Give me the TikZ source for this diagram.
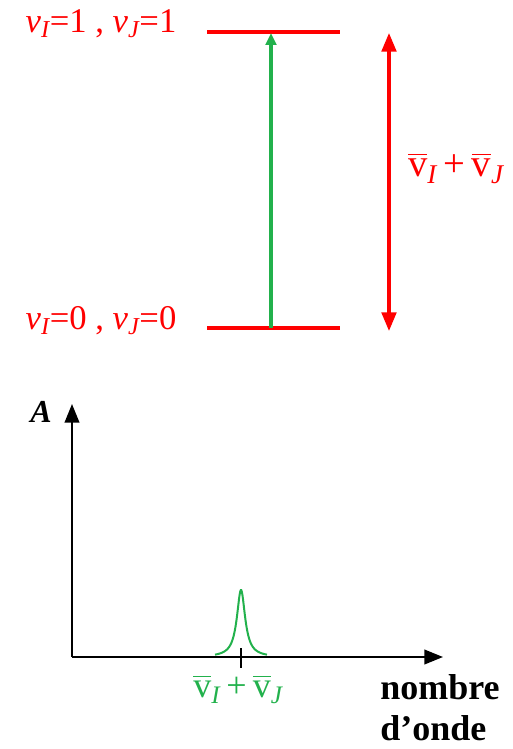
\documentclass[tikz,border=0pt]{standalone}
\usepackage{amsmath}
\usepackage{fontspec}
\setmainfont{Liberation Serif}
\usetikzlibrary{arrows.meta, positioning}
\definecolor{levelRed}{HTML}{FF0000}
\definecolor{peakGreen}{HTML}{22B14C}
\newcommand{\nubr}[1]{$\overline{\text{v}}_{\textit{#1}}$}

\begin{document}
\begin{tikzpicture}[
  x=0.75pt, y=-0.75pt,
  level/.style={draw=levelRed, line width=2.3pt},
  lbl/.style={text=levelRed, font=\fontsize{26}{30}\selectfont, inner sep=0pt},
  trans/.style={draw=peakGreen, line width=2.3pt, -{Triangle[length=9pt, width=8pt]}},
  gaparrow/.style={draw=levelRed, line width=2.3pt,
                   {Triangle[length=14pt, width=11pt]}-{Triangle[length=14pt, width=11pt]}},
  axis/.style={line width=1.4pt, -{Triangle[length=14pt, width=11pt]}},
  peak/.style={draw=peakGreen, line width=1.5pt},
  axlbl/.style={font=\fontsize{27}{31}\selectfont\bfseries, inner sep=0pt, align=left}
]
\useasboundingbox (0,0) rectangle (513,749);

% niveaux
\coordinate (hiL) at (207,32);
\coordinate (hiR) at (340,32);
\coordinate (loL) at (207,328);
\coordinate (loR) at (340,328);
\draw[level] (hiL) -- (hiR);
\draw[level] (loL) -- (loR);
\node[lbl] (hilbl) at (101,24) {\textit{v}$_{\textit{I}}$=1 , \textit{v}$_{\textit{J}}$=1};
\node[lbl] (lolbl) at (101,321) {\textit{v}$_{\textit{I}}$=0 , \textit{v}$_{\textit{J}}$=0};

\coordinate (trlow) at (271,328);
\coordinate (trhigh) at (271,33);
\draw[trans] (trlow) -- (trhigh);

\coordinate (gaptop) at (389,33);
\coordinate (gapbot) at (389,331);
\draw[gaparrow] (gapbot) -- (gaptop);
\node[lbl, font=\fontsize{29}{32}\selectfont] (gaplbl) at (456,168) {\nubr{I}\,+\,\nubr{J}};

% spectre
\coordinate (orig) at (72,657);
\coordinate (ytop) at (72,404);
\coordinate (xend) at (443,657);
\draw[axis] (orig) -- (ytop);
\draw[axis] (orig) -- (xend);
\node[font=\fontsize{24}{28}\selectfont\bfseries\itshape, inner sep=0pt] (alab) at (41,412) {A};

\draw[peak] plot[domain=215:267, samples=120, smooth] (\x, {657-67*25/((\x-241)^2+25)});
\coordinate (tkup) at (241,648);
\coordinate (tkdn) at (241,668);
\draw[line width=1.2pt] (tkup) -- (tkdn);
\node[text=peakGreen, font=\fontsize{27}{30}\selectfont, inner sep=0pt] (pklbl) at (238,689) {\nubr{I}\,+\,\nubr{J}};

\node[axlbl, anchor=north west] (wavelbl) at (380,674) {nombre\\d'onde};
\end{tikzpicture}
\end{document}
